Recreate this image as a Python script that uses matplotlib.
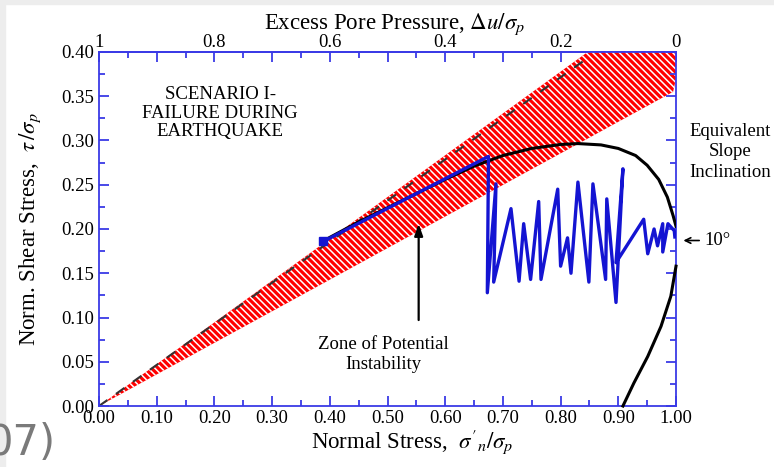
import numpy as np
import matplotlib.pyplot as plt
from matplotlib.patches import Rectangle
from matplotlib.ticker import MultipleLocator, FuncFormatter, FormatStrFormatter

plt.rcParams['font.family'] = ['Liberation Serif', 'DejaVu Serif']
plt.rcParams['mathtext.fontset'] = 'stix'
plt.rcParams['hatch.color'] = 'white'
plt.rcParams['hatch.linewidth'] = 1.1

# zone between the two failure envelopes
zone_sn = [0.0, 0.847, 1.0, 1.0, 0.995]
zone_tau = [0.0, 0.40, 0.40, 0.37, 0.355]

# dashed envelope inside the zone
env_sn = [0.0, 0.84]
env_tau = [0.0, 0.39]

# black boundary curve: upper and lower branches
curve_up_sn = [0.39, 0.45, 0.50, 0.55, 0.60, 0.65, 0.70, 0.75, 0.80, 0.83,
               0.87, 0.90, 0.93, 0.95, 0.97, 0.985, 0.995, 1.0]
curve_up_tau = [0.187, 0.208, 0.224, 0.240, 0.256, 0.271, 0.283, 0.291, 0.2955, 0.2965,
                0.295, 0.291, 0.283, 0.272, 0.256, 0.236, 0.215, 0.203]
curve_lo_sn = [1.0, 0.991, 0.974, 0.951, 0.927, 0.908]
curve_lo_tau = [0.158, 0.124, 0.090, 0.056, 0.026, 0.0]

# stress path during shaking
path_sn = [0.389, 0.675, 0.673, 0.688, 0.684, 0.714, 0.728, 0.736, 0.748, 0.762,
           0.766, 0.795, 0.800, 0.812, 0.818, 0.830, 0.849, 0.856, 0.878, 0.880,
           0.896, 0.908, 0.896, 0.944, 0.951, 0.962, 0.968, 0.977, 0.977, 0.986,
           0.997, 0.998]
path_tau = [0.186, 0.282, 0.128, 0.251, 0.140, 0.223, 0.141, 0.206, 0.143, 0.231,
            0.143, 0.245, 0.158, 0.190, 0.150, 0.253, 0.140, 0.251, 0.143, 0.234,
            0.117, 0.268, 0.162, 0.211, 0.172, 0.200, 0.181, 0.206, 0.174, 0.206,
            0.198, 0.191]

blue = '#1414d2'
axis_blue = '#3a3ae6'

fig = plt.figure(figsize=(7.74, 4.67), dpi=100)
fig.patches.append(Rectangle((0, 0), 5 / 774, 1, transform=fig.transFigure,
                             color='#ededed', zorder=-5))
fig.patches.append(Rectangle((0, 1 - 4 / 467), 1, 4 / 467, transform=fig.transFigure,
                             color='#ededed', zorder=-5))
ax = fig.add_axes([0.1279, 0.1306, 0.7455, 0.7581])

ax.fill(zone_sn, zone_tau, facecolor='red', edgecolor='white', hatch='\\' * 5,
        linewidth=0, zorder=1)
ax.plot(env_sn, env_tau, color='#333333', lw=1.5, ls=(0, (5, 5)), zorder=2)

ax.plot(curve_up_sn, curve_up_tau, color='black', lw=2.2, zorder=3)
ax.plot(curve_lo_sn, curve_lo_tau, color='black', lw=2.2, zorder=3, clip_on=False)

ax.plot(path_sn, path_tau, color=blue, lw=2.4, zorder=4)
ax.plot(path_sn[0], path_tau[0], marker='s', ms=6, color=blue, zorder=4)

ax.set_xlim(0, 1)
ax.set_ylim(0, 0.40)

ax.xaxis.set_major_locator(MultipleLocator(0.1))
ax.xaxis.set_minor_locator(MultipleLocator(0.05))
ax.xaxis.set_major_formatter(FormatStrFormatter('%.2f'))
ax.yaxis.set_major_locator(MultipleLocator(0.05))
ax.yaxis.set_minor_locator(MultipleLocator(0.025))
ax.yaxis.set_major_formatter(FormatStrFormatter('%.2f'))
ax.tick_params(which='both', direction='in', color=axis_blue, width=1.3,
               right=True, top=False, labelsize=13.5)
ax.tick_params(axis='x', pad=3)
ax.tick_params(which='major', length=7)
ax.tick_params(which='minor', length=4)
for s in ax.spines.values():
    s.set_color(axis_blue)
    s.set_linewidth(1.3)

# excess pore pressure scale runs the other way along the top
sec = ax.secondary_xaxis('top', functions=(lambda x: 1 - x, lambda x: 1 - x))
sec.xaxis.set_major_locator(MultipleLocator(0.1))
sec.xaxis.set_minor_locator(MultipleLocator(0.05))


def top_fmt(v, pos):
    k = v / 0.2
    if abs(k - round(k)) > 1e-6:
        return ''
    v = round(v, 1)
    return '%g' % abs(v) if abs(v) < 1e-9 else '%g' % v


sec.xaxis.set_major_formatter(FuncFormatter(top_fmt))
sec.tick_params(which='both', direction='in', color=axis_blue, width=1.3,
                labelsize=13.5, pad=1)
sec.tick_params(which='major', length=7)
sec.tick_params(which='minor', length=4)
sec.spines['top'].set_color(axis_blue)
sec.spines['top'].set_linewidth(1.3)
sec.set_xlabel(r'Excess Pore Pressure, $\Delta u/\sigma_p$', fontsize=16.5, labelpad=3)
sec.xaxis.label.set_x(0.512)

ax.set_xlabel(r"Normal Stress,  $\sigma'_n/\sigma_p$", fontsize=16.5, labelpad=0)
ax.xaxis.label.set_x(0.543)
ax.set_ylabel(r'Norm. Shear Stress,  $\tau\,/\sigma_p$', fontsize=16.5, labelpad=13)

ax.text(0.21, 0.331, 'SCENARIO I-\nFAILURE DURING\nEARTHQUAKE', ha='center', va='center',
        fontsize=13.5, linespacing=1.1)
ax.text(0.493, 0.058, 'Zone of Potential\nInstability', ha='center', va='center',
        fontsize=13.5, linespacing=1.2)
ax.annotate('', xy=(0.554, 0.209), xytext=(0.554, 0.094),
            arrowprops=dict(arrowstyle='-|>,head_length=0.7,head_width=0.25',
                            color='black', lw=1.6))
ax.text(1.094, 0.287, 'Equivalent\nSlope\nInclination', ha='center', va='center',
        fontsize=13.5, linespacing=1.3, clip_on=False)
ax.annotate('', xy=(1.008, 0.187), xytext=(1.045, 0.187), annotation_clip=False,
            arrowprops=dict(arrowstyle='->', color='black', lw=1.2))
ax.text(1.050, 0.187, '10°', ha='left', va='center', fontsize=13.5, clip_on=False)

fig.text(-14 / 774, 12 / 467, '07)', fontsize=30, color='#7a7a7a',
         family='DejaVu Sans', va='baseline')

fig.savefig('out.png', dpi=100)
